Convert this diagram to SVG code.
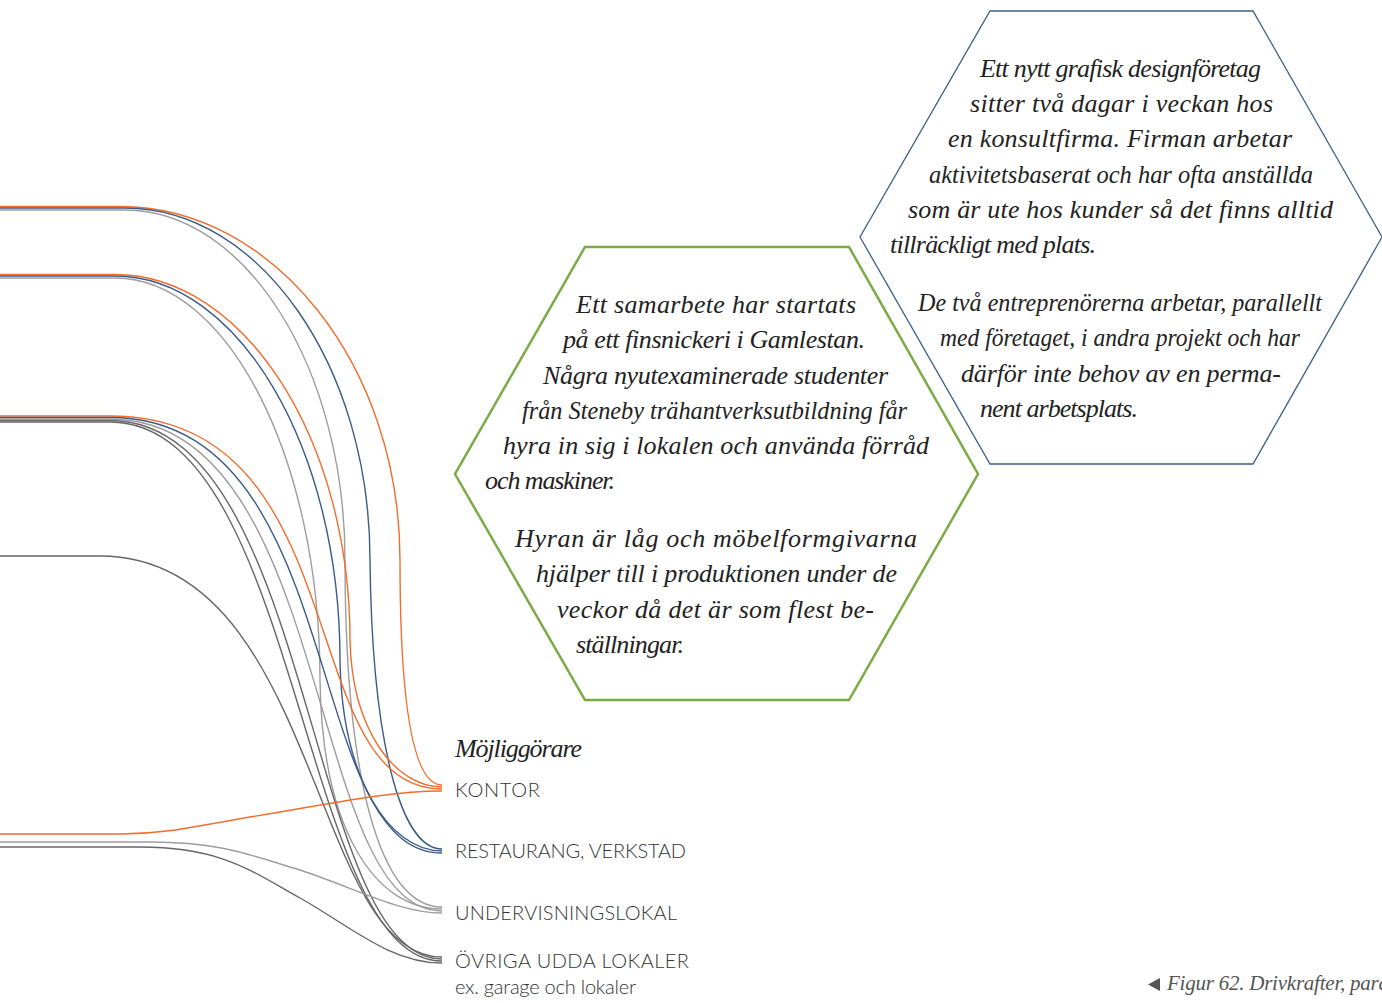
<svg xmlns="http://www.w3.org/2000/svg" width="1382" height="1003" viewBox="0 0 1382 1003">
<style>
.c{fill:none;stroke-width:1.4}
.o{stroke:#f26d2d}
.b{stroke:#3b5b88}
.g{stroke:#9d9d9d}
.d{stroke:#666}
.t{font-family:"Liberation Serif","DejaVu Serif",serif;font-style:italic;font-size:26px;fill:#222}
.l{font-family:Lato,"Open Sans","Liberation Sans",sans-serif;font-weight:300;font-size:20px;fill:#333}
</style>
<rect width="1382" height="1003" fill="#fff"/>
<g id="connectors">
<path class="c o" d="M0,206.5 H120 C274,206.5 400,366 400,560 C400,700 412,785 442,785"/>
<path class="c b" d="M0,208 H125 C260,208 370,366 370,560 C372,740 400,849 442,849"/>
<path class="c g" d="M0,210 H125 C246,210 345,368 345,560 C345,780 380,907 442,907"/>
<path class="c o" d="M0,274.5 H115 C244,274.5 350,439 350,640 C352,730 395,787 442,787"/>
<path class="c b" d="M0,276 H115 C239,276 340,449 340,660 C342,780 390,851 442,851"/>
<path class="c g" d="M0,278 H115 C228,278 320,459 320,680 C322,830 375,909 442,909"/>
<path class="c o" d="M0,416 H110 C360,416 292,789 442,789"/>
<path class="c b" d="M0,417.5 H110 C350,417.5 300,853 442,853"/>
<path class="c g" d="M0,419 H110 C335,419 305,911 442,911"/>
<path class="c d" d="M0,420.5 H110 C315,420.5 305,959 442,959"/>
<path class="c d" d="M0,422 H110 C300,422 300,961 442,961"/>
<path class="c d" d="M0,556 H100 C320,556 310,957 442,957"/>
<path class="c o" d="M0,834 H120 C170,834 200,825 280,812 C360,798 400,791 442,791"/>
<path class="c g" d="M0,842 H150 C220,842 250,855 300,870 C360,890 400,913 442,913"/>
<path class="c d" d="M0,847 H140 C220,847 250,870 300,898 C350,926 390,963 442,963"/>
</g>
<g id="hex-green">
<polygon points="585,247 849,247 978,474 849,700 585,700 455,474" fill="none" stroke="#7aab45" stroke-width="2.5"/>
<text class="t" x="576" y="313" textLength="280" lengthAdjust="spacing">Ett samarbete har startats</text>
<text class="t" x="563" y="348" textLength="302" lengthAdjust="spacing">på ett finsnickeri i Gamlestan.</text>
<text class="t" x="543" y="384" textLength="345" lengthAdjust="spacing">Några nyutexaminerade studenter</text>
<text class="t" x="522" y="419" textLength="385" lengthAdjust="spacingAndGlyphs">från Steneby trähantverksutbildning får</text>
<text class="t" x="503" y="454" textLength="426" lengthAdjust="spacing">hyra in sig i lokalen och använda förråd</text>
<text class="t" x="485" y="489" textLength="130" lengthAdjust="spacing">och maskiner.</text>
<text class="t" x="515" y="547" textLength="402" lengthAdjust="spacing">Hyran är låg och möbelformgivarna</text>
<text class="t" x="536" y="582" textLength="361" lengthAdjust="spacing">hjälper till i produktionen under de</text>
<text class="t" x="557" y="618" textLength="317" lengthAdjust="spacing">veckor då det är som flest be-</text>
<text class="t" x="576" y="653" textLength="108" lengthAdjust="spacing">ställningar.</text>
</g>
<g id="hex-blue">
<polygon points="990,11 1253,11 1382,237 1253,464 990,464 860,237" fill="none" stroke="#3e5f8a" stroke-width="1.3"/>
<text class="t" x="980" y="77" textLength="281" lengthAdjust="spacing">Ett nytt grafisk designföretag</text>
<text class="t" x="970" y="112" textLength="303" lengthAdjust="spacing">sitter två dagar i veckan hos</text>
<text class="t" x="948" y="147" textLength="344" lengthAdjust="spacing">en konsultfirma. Firman arbetar</text>
<text class="t" x="929" y="183" textLength="384" lengthAdjust="spacingAndGlyphs">aktivitetsbaserat och har ofta anställda</text>
<text class="t" x="908" y="218" textLength="425" lengthAdjust="spacing">som är ute hos kunder så det finns alltid</text>
<text class="t" x="890" y="253" textLength="206" lengthAdjust="spacing">tillräckligt med plats.</text>
<text class="t" x="918" y="311" textLength="404" lengthAdjust="spacingAndGlyphs">De två entreprenörerna arbetar, parallellt</text>
<text class="t" x="940" y="346" textLength="360" lengthAdjust="spacingAndGlyphs">med företaget, i andra projekt och har</text>
<text class="t" x="961" y="382" textLength="320" lengthAdjust="spacing">därför inte behov av en perma-</text>
<text class="t" x="980" y="417" textLength="158" lengthAdjust="spacing">nent arbetsplats.</text>
</g>
<g id="title-mojliggorare">
<text class="t" x="455" y="757" font-size="28" textLength="127" lengthAdjust="spacing">Möjliggörare</text>
</g>
<g id="node-kontor">
<text class="l" x="455" y="797" textLength="85" lengthAdjust="spacing">KONTOR</text>
</g>
<g id="node-restaurang">
<text class="l" x="455" y="858" textLength="231" lengthAdjust="spacing">RESTAURANG, VERKSTAD</text>
</g>
<g id="node-undervisning">
<text class="l" x="455" y="920" textLength="222" lengthAdjust="spacing">UNDERVISNINGSLOKAL</text>
</g>
<g id="node-ovriga">
<text class="l" x="455" y="968" textLength="234" lengthAdjust="spacing">ÖVRIGA UDDA LOKALER</text>
<text class="l" x="455" y="994" font-size="18" textLength="181" lengthAdjust="spacing">ex. garage och lokaler</text>
</g>
<g id="caption">
<polygon points="1160,978 1160,991 1148,984.5" fill="#555"/>
<text x="1167" y="990" font-family="'Liberation Serif','DejaVu Serif',serif" font-style="italic" font-size="21" fill="#555" textLength="222" lengthAdjust="spacing">Figur 62. Drivkrafter, para</text>
</g>
</svg>
